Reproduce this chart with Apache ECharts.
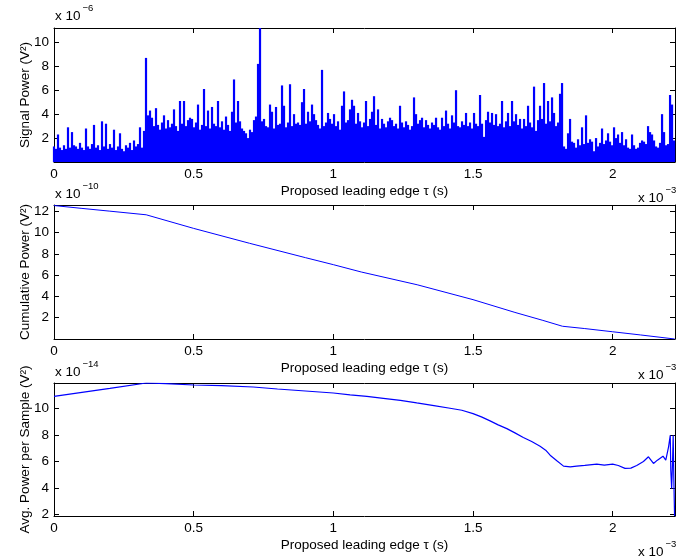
<!DOCTYPE html>
<html>
<head>
<meta charset="utf-8">
<script src="https://cdn.jsdelivr.net/npm/echarts@6/dist/echarts.min.js"></script>
<style>html,body{margin:0;padding:0;background:#fff}#c{width:699px;height:559px}</style>
</head>
<body>
<div id="c"></div>
<script>
// ---- data (x in units of 1e-3 s) ----
const signalStep = 0.00716; // spacing of signal samples shown (x 1e-3 s)
// Signal power, x 1e-6 V^2
const signalPower = [
 1.3,1.1,2.3,1.2,1.0,1.4,1.1,2.9,1.2,2.5,
 1.4,1.3,1.1,1.6,1.2,1.0,2.8,1.3,1.1,1.5,
 3.1,1.2,1.4,1.0,3.4,1.3,3.2,1.1,1.5,1.2,
 2.7,1.0,1.3,2.4,1.1,0.9,1.4,1.2,1.6,1.0,
 1.8,1.3,1.5,2.9,1.2,2.6,8.7,3.9,4.3,3.7,
 3.0,4.5,3.1,2.7,3.3,3.9,2.8,3.5,2.9,3.2,
 4.4,3.0,2.6,5.1,3.2,5.1,3.0,3.5,3.7,3.6,
 2.9,3.3,4.8,2.7,3.1,6.1,3.0,4.3,2.8,4.6,
 3.2,3.0,5.1,2.9,3.4,2.7,3.8,3.1,2.6,4.2,
 6.9,3.3,5.1,3.4,2.8,2.6,2.4,2.0,2.7,2.5,
 3.5,3.8,8.2,11.2,3.4,3.6,3.0,2.9,4.8,4.2,
 2.8,4.6,3.1,3.2,6.4,4.7,2.9,3.3,6.5,3.0,
 4.0,3.2,3.3,3.1,5.0,6.1,3.2,4.2,3.4,4.8,
 4.0,3.5,3.1,2.8,7.7,3.0,3.3,4.1,3.6,3.2,
 4.0,3.0,3.4,2.7,4.7,5.9,3.3,3.5,4.4,5.2,
 4.7,3.2,4.1,3.4,2.9,3.3,5.1,3.0,3.6,4.2,
 5.5,3.1,4.4,2.8,3.6,3.2,2.9,3.4,3.7,3.5,
 3.0,3.2,2.8,4.7,3.3,2.9,3.4,3.1,2.7,3.0,
 5.4,4.0,3.2,3.5,3.7,2.9,3.5,3.1,2.8,3.3,
 3.1,3.7,2.9,2.7,3.7,3.0,4.3,3.2,2.8,3.9,
 3.3,6.0,3.0,2.9,3.4,3.1,4.1,3.0,3.3,2.8,
 4.1,3.2,3.0,5.6,3.2,2.1,3.5,4.2,3.3,4.1,
 3.1,4.0,3.0,3.2,5.1,2.9,3.4,4.1,3.0,5.1,
 3.4,4.0,3.1,3.6,2.8,3.6,3.0,4.7,3.3,2.9,
 6.3,2.6,3.5,4.7,3.6,6.6,3.2,5.1,3.4,5.4,
 4.1,3.0,3.3,5.7,6.6,1.3,1.1,2.4,3.6,1.7,
 1.6,1.2,1.9,1.4,2.9,1.5,3.9,1.6,1.9,1.7,
 0.9,2.0,1.3,1.6,2.8,1.5,1.8,2.4,1.7,1.4,
 2.9,2.0,2.3,1.6,2.5,1.4,1.9,1.2,1.1,2.3,
 1.4,1.1,1.2,1.6,1.8,1.7,1.5,3.0,2.5,2.3,
 1.8,1.3,1.2,1.6,4.0,2.5,1.4,1.5,5.6,4.8,1.8
];
// Cumulative power, x 1e-10 V^2
const cumTime  = [0, 0.1, 0.2, 0.33, 0.5, 0.7, 0.9, 1.0, 1.1, 1.3, 1.5, 1.65, 1.75, 1.82, 1.9, 2.0, 2.1, 2.222];
const cumPower = [12.55, 12.28, 12.02, 11.68, 10.4, 9.0, 7.65, 6.99, 6.3, 5.1, 3.7, 2.5, 1.75, 1.2, 0.98, 0.68, 0.38, 0.0];
// Average power per sample, x 1e-14 V^2
const avgTime = [0, 0.1, 0.2, 0.33, 0.4, 0.5, 0.6, 0.713, 0.8, 0.9, 1.0, 1.06, 1.12, 1.179, 1.24, 1.2986, 1.36, 1.4177, 1.46, 1.5,
 1.53, 1.561, 1.59, 1.621, 1.65, 1.68, 1.71, 1.74, 1.76, 1.776, 1.80, 1.824, 1.848, 1.871, 1.9, 1.943, 1.97, 2.0, 2.02, 2.044,
 2.065, 2.086, 2.11, 2.128, 2.146, 2.16, 2.17, 2.18, 2.19, 2.2, 2.206, 2.208, 2.211, 2.214, 2.2165, 2.219, 2.2215];
const avgPower = [10.9, 11.2, 11.5, 11.9, 11.85, 11.75, 11.7, 11.6, 11.45, 11.3, 11.15, 11.0, 10.9, 10.75, 10.6, 10.4, 10.2, 10.0, 9.85, 9.6,
 9.35, 9.05, 8.75, 8.47, 8.15, 7.8, 7.5, 7.15, 6.85, 6.47, 6.05, 5.65, 5.6, 5.65, 5.7, 5.8, 5.72, 5.8, 5.7, 5.48,
 5.5, 5.7, 6.0, 6.35, 5.85, 6.1, 6.25, 6.4, 6.1, 7.1, 7.97, 5.3, 3.97, 5.8, 7.97, 4.5, 1.9];
// tick values
const xTicks = [0, 0.5, 1, 1.5, 2];
const yTicks1 = [2, 4, 6, 8, 10];
const yTicks2 = [2, 4, 6, 8, 10, 12];
const yTicks3 = [2, 4, 6, 8, 10];
const xName = 'Proposed leading edge τ (s)';
const yNames = ['Signal Power (V²)', 'Cumulative Power (V²)', 'Avg. Power per Sample (V²)'];
const xExp = '−3';
const yExps = ['−6', '−10', '−14'];

// ---- layout ----
const FONT = "'Liberation Sans', Arial, Helvetica, sans-serif";
const FS = 13.5;
const BLUE = '#0000ff';
const grids = [
  {left: 54, top: 28, width: 621, height: 134},
  {left: 54, top: 205, width: 621, height: 134},
  {left: 54, top: 383, width: 621, height: 133}
];
const yRanges = [[0, 11.2], [0, 12.6], [1.9, 11.9]];
const yTickSets = [yTicks1, yTicks2, yTicks3];

const xAxes = [], yAxes = [];
grids.forEach((g, i) => {
  const lineS = {show: true, onZero: false, lineStyle: {color: '#000', width: 1}};
  xAxes.push({
    type: 'value', gridIndex: i, position: 'bottom', min: 0, max: 2.223,
    axisLine: lineS,
    axisTick: {show: true, inside: true, length: 5, lineStyle: {color: '#000'}, customValues: xTicks},
    axisLabel: {show: true, customValues: xTicks, color: '#000', fontSize: FS, fontFamily: FONT, margin: 5,
      formatter: v => String(v)},
    splitLine: {show: false},
    name: xName, nameLocation: 'middle', nameGap: 22, nameMoveOverlap: false,
    nameTextStyle: {color: '#000', fontSize: FS, fontFamily: FONT}
  });
  xAxes.push({
    type: 'value', gridIndex: i, position: 'top', min: 0, max: 2.223,
    axisLine: lineS,
    axisTick: {show: true, inside: true, length: 5, lineStyle: {color: '#000'}, customValues: xTicks},
    axisLabel: {show: false}, splitLine: {show: false}
  });
  const [mn, mx] = yRanges[i];
  yAxes.push({
    type: 'value', gridIndex: i, position: 'left', min: mn, max: mx,
    axisLine: lineS,
    axisTick: {show: true, inside: true, length: 5, lineStyle: {color: '#000'}, customValues: yTickSets[i]},
    axisLabel: {show: true, customValues: yTickSets[i], color: '#000', fontSize: FS, fontFamily: FONT, margin: 5,
      formatter: v => String(v)},
    splitLine: {show: false},
    name: yNames[i], nameLocation: 'middle', nameGap: 22, nameMoveOverlap: false,
    nameTextStyle: {color: '#000', fontSize: FS, fontFamily: FONT}
  });
  yAxes.push({
    type: 'value', gridIndex: i, position: 'right', min: mn, max: mx,
    axisLine: lineS,
    axisTick: {show: true, inside: true, length: 5, lineStyle: {color: '#000'}, customValues: yTickSets[i]},
    axisLabel: {show: false}, splitLine: {show: false}
  });
});

// exponent labels (x 10^n)
const graphics = [];
function expLabel(xLeft, yMid, exp) {
  graphics.push({type: 'text', left: xLeft, top: yMid - 8,
    style: {text: 'x 10', fontSize: FS, fontFamily: FONT, fill: '#000'}});
  graphics.push({type: 'text', left: xLeft + 27.5, top: yMid - 14,
    style: {text: exp, fontSize: 9.5, fontFamily: FONT, fill: '#000'}});
}
expLabel(55, 17, yExps[0]);
expLabel(55, 195, yExps[1]);
expLabel(55, 373, yExps[2]);
expLabel(638, 199, xExp);
expLabel(638, 376, xExp);
expLabel(638, 553, xExp);

const chart = echarts.init(document.getElementById('c'), null, {renderer: 'canvas'});
chart.setOption({
  animation: false,
  backgroundColor: '#fff',
  grid: grids.map(g => Object.assign({containLabel: false}, g)),
  xAxis: xAxes,
  yAxis: yAxes,
  graphic: graphics,
  series: [
    {type: 'bar', xAxisIndex: 0, yAxisIndex: 0, barWidth: 2.2, clip: true,
     itemStyle: {color: BLUE}, data: signalPower.map((v, i) => [i * signalStep, v])},
    {type: 'line', xAxisIndex: 2, yAxisIndex: 2, showSymbol: false, clip: true,
     lineStyle: {color: BLUE, width: 1}, data: cumTime.map((t, i) => [t, cumPower[i]])},
    {type: 'line', xAxisIndex: 4, yAxisIndex: 4, showSymbol: false, clip: true,
     lineStyle: {color: BLUE, width: 1.2}, data: avgTime.map((t, i) => [t, avgPower[i]])}
  ]
});
</script>
</body>
</html>
